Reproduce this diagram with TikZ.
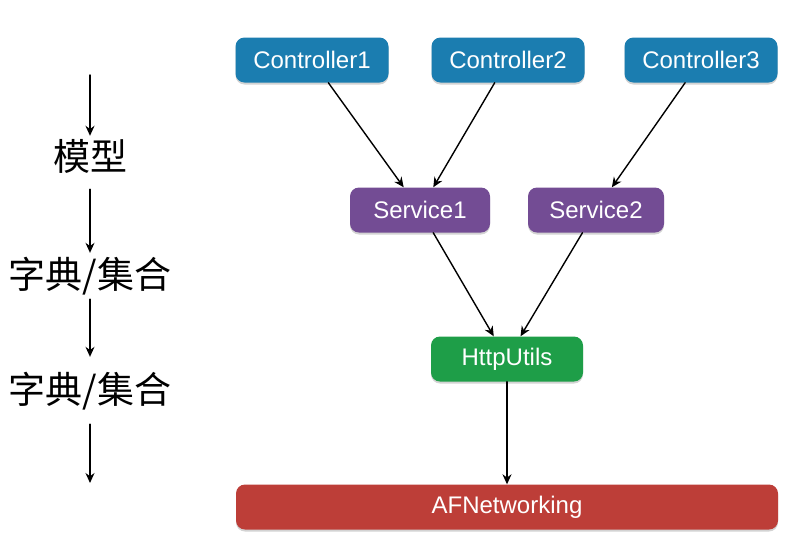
\documentclass[tikz,border=0pt]{standalone}
\usepackage{fontspec}
\setmainfont{Liberation Sans}
\newfontfamily\cjk{Noto Sans CJK SC}
\usetikzlibrary{arrows.meta,shadows}
\definecolor{ctlblue}{HTML}{1B7DB0}
\definecolor{svcpurple}{HTML}{734C94}
\definecolor{utilgreen}{HTML}{1E9E48}
\definecolor{afred}{HTML}{BD3E38}
\begin{document}
\begin{tikzpicture}[x=1pt,y=-1pt, line join=round, line cap=round,
    box/.style={rounded corners=9pt, minimum height=45pt, text=white,
        font=\fontsize{24}{24}\selectfont,
        drop shadow={opacity=.35, shadow xshift=0pt, shadow yshift=-2pt}},
    link/.style={-{Stealth[length=10pt,width=9pt]}, line width=1.4pt},
    step label/.style={font=\cjk\fontsize{37}{37}\selectfont, inner sep=0pt}]
    \useasboundingbox (0,0) rectangle (800,550);
    % layers
    \node[box, fill=ctlblue, minimum width=153pt] (c1) at (312,60) {Controller1};
    \node[box, fill=ctlblue, minimum width=153pt] (c2) at (508,60) {Controller2};
    \node[box, fill=ctlblue, minimum width=153pt] (c3) at (701,60) {Controller3};
    \node[box, fill=svcpurple, minimum width=140pt] (s1) at (420,210) {Service1};
    \node[box, fill=svcpurple, minimum width=136pt] (s2) at (596,210) {Service2};
    \node[box, fill=utilgreen, minimum width=152pt] (hu) at (507,359) {HttpUtils};
    \node[box, fill=afred, minimum width=542pt] (af) at (507,507) {AFNetworking};
    \draw[link] (c1) -- (s1);
    \draw[link] (c2) -- (s1);
    \draw[link] (c3) -- (s2);
    \draw[link] (s1) -- (hu);
    \draw[link] (s2) -- (hu);
    \draw[link] (hu) -- (af);
    % data flow on the left
    \coordinate (top) at (90,75);
    \coordinate (bot) at (90,483);
    \node[step label] (m1) at (90,156) {模型};
    \node[step label] (d1) at (90,276) {字典/集合};
    \node[step label] (d2) at (90,391) {字典/集合};
    \draw[link] (top) -- ([yshift=3pt]m1.north);
    \draw[link] ([yshift=-16pt]m1.south) -- ([yshift=4pt]d1.north);
    \draw[link] ([yshift=-4pt]d1.south) -- ([yshift=15pt]d2.north);
    \draw[link] ([yshift=-14pt]d2.south) -- (bot);
\end{tikzpicture}
\end{document}
